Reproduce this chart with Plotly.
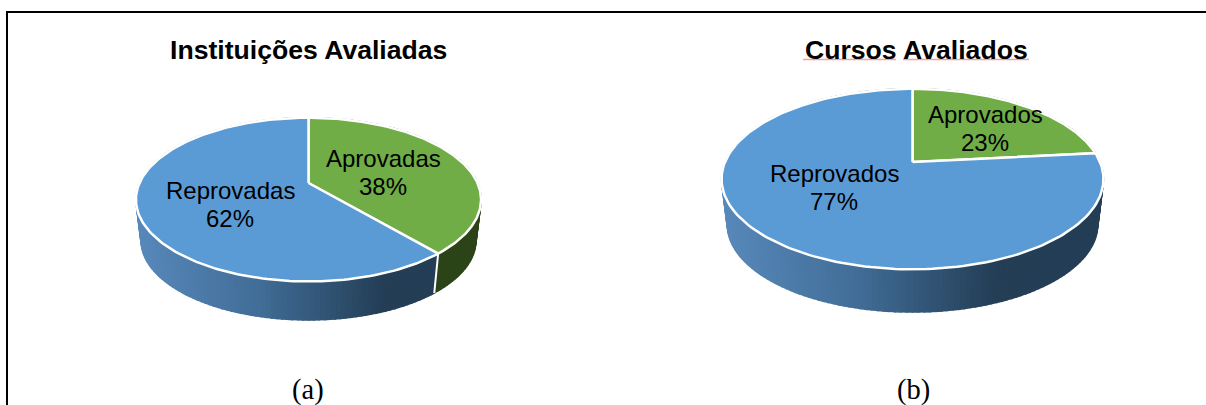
import numpy as np
import plotly.graph_objects as go

# Data
title_a = "Instituições Avaliadas"
title_b = "Cursos Avaliados"
labels_a = ["Aprovadas", "Reprovadas"]
values_a = [38, 62]
labels_b = ["Aprovados", "Reprovados"]
values_b = [23, 77]
captions = ["(a)", "(b)"]

# Style
GREEN = "#70AD47"
BLUE = "#5B9BD5"
GREEN_SIDE = "#2C4418"
SIDE_STOPS = [(0.0, (88, 137, 186)), (0.35, (66, 110, 152)), (0.72, (36, 62, 86)), (1.0, (36, 62, 86))]
FONT = "Liberation Sans"
SERIF = "Liberation Serif"

PIE_A = dict(cx=308.5, apex=183.0, rx=169.0, ry=78.5, k=0.2025, depth=41.5, s=0.97, left=136, width=345, warp=1.02)
PIE_B = dict(cx=912.5, apex=162.0, rx=187.5, ry=87.0, k=0.189, depth=46.0, s=0.97, left=722, width=381, warp=1.015)


def project(theta, p, bottom=False):
    s = p["s"] if bottom else 1.0
    y0 = p["apex"] + (p["depth"] if bottom else 0.0)
    w = 1 + p["k"] * np.cos(theta)
    return p["cx"] + s * p["rx"] * np.sin(theta) / w, y0 - s * p["ry"] * np.cos(theta) / w


def side_colour(x, p):
    t = min(max((x - p["left"]) / p["width"], 0), 1)
    xs = [a for a, _ in SIDE_STOPS]
    rgb = [np.interp(t, xs, [c[i] for _, c in SIDE_STOPS]) for i in range(3)]
    return "rgb(%d,%d,%d)" % tuple(rgb)


def poly(fig, xs, ys, fill, line=None, width=1.5):
    fig.add_trace(go.Scatter(x=list(xs), y=list(ys), mode="lines", fill="toself", fillcolor=fill,
                             line=dict(color=line or fill, width=width), hoverinfo="skip", showlegend=False))


def draw_pie(fig, values, p):
    boundary = 2 * np.pi * values[0] / sum(values) * p["warp"]
    # side wall, drawn strip by strip under the top face
    edges = np.linspace(0, 2 * np.pi, 241)
    for a, b in zip(edges[:-1], edges[1:]):
        xt, yt = project(np.array([a, b]), p)
        xb, yb = project(np.array([b, a]), p, bottom=True)
        mid = (a + b) / 2
        colour = GREEN_SIDE if mid < boundary else side_colour(float(np.mean(xt)), p)
        poly(fig, [*xt, *xb, xt[0]], [*yt, *yb, yt[0]], colour)
    # white seam on the wall between the two slices
    xs, ys = project(boundary, p)
    xe, ye = project(boundary, p, bottom=True)
    if 0.5 * np.pi < boundary < 1.5 * np.pi:
        fig.add_trace(go.Scatter(x=[xs, xe], y=[ys, ye], mode="lines", line=dict(color="white", width=2),
                                 hoverinfo="skip", showlegend=False))
    # top face
    for start, end, colour in ((0.0, boundary, GREEN), (boundary, 2 * np.pi, BLUE)):
        th = np.linspace(start, end, 180)
        x, y = project(th, p)
        poly(fig, [p["cx"], *x, p["cx"]], [p["apex"], *y, p["apex"]], colour, "white", 2.5)


fig = go.Figure()
draw_pie(fig, values_a, PIE_A)
draw_pie(fig, values_b, PIE_B)

anns = [
    (308.5, 50, title_a, 26.6, True, FONT),
    (916, 50, title_b, 26.6, True, FONT),
    (383, 158, labels_a[0], 24, False, FONT),
    (383, 186, f"{values_a[0]}%", 24, False, FONT),
    (230, 190, labels_a[1], 24, False, FONT),
    (230, 218, f"{values_a[1]}%", 24, False, FONT),
    (985, 114, labels_b[0], 24, False, FONT),
    (985, 142, f"{values_b[0]}%", 24, False, FONT),
    (834, 173, labels_b[1], 24, False, FONT),
    (834, 201, f"{values_b[1]}%", 24, False, FONT),
    (308, 390, captions[0], 28.5, False, SERIF),
    (913, 390, captions[1], 28.5, False, SERIF),
]
for x, y, text, size, bold, family in anns:
    fig.add_annotation(x=x, y=y, xref="x", yref="y", text=f"<b>{text}</b>" if bold else text, showarrow=False,
                       font=dict(family=family, size=size, color="black"), xanchor="center", yanchor="middle",
                       align="center")

shapes = [
    dict(type="line", x0=6, x1=1206, y0=12, y1=12, line=dict(color="black", width=2)),
    dict(type="line", x0=7, x1=7, y0=11, y1=405, line=dict(color="black", width=2)),
    dict(type="line", x0=803, x1=896, y0=59.5, y1=59.5, line=dict(color="#F8A0A0", width=1.5)),
    dict(type="line", x0=903, x1=1029, y0=59.5, y1=59.5, line=dict(color="#F8A0A0", width=1.5)),
]
fig.update_layout(
    width=1206, height=405, margin=dict(l=0, r=0, t=0, b=0), paper_bgcolor="white", plot_bgcolor="white",
    xaxis=dict(range=[0, 1206], visible=False, fixedrange=True),
    yaxis=dict(range=[405, 0], visible=False, fixedrange=True),
    shapes=shapes, showlegend=False,
)
fig.write_html("out.html", post_script="document.body.style.margin='0';", config={"displayModeBar": False})
